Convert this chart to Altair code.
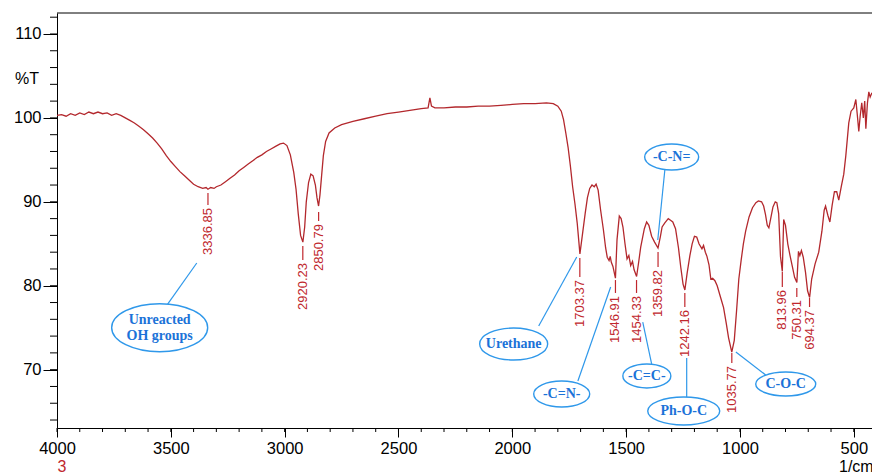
import altair as alt
import pandas as pd

# ---------------- spectrum ----------------
wavenumber = [
    4000, 3980, 3960, 3940, 3920, 3900, 3880, 3860, 3840, 3820, 3800, 3780, 3760, 3740,
    3720, 3700, 3680, 3660, 3640, 3620, 3600, 3580, 3560, 3540, 3520, 3500, 3480, 3460,
    3440, 3420, 3400, 3380, 3360, 3345, 3337, 3325, 3310, 3300, 3280, 3260, 3240, 3220,
    3200, 3180, 3160, 3140, 3120, 3100, 3080, 3060, 3040, 3020, 3005, 2990, 2975, 2960,
    2950, 2940, 2930, 2920, 2912, 2905, 2895, 2885, 2875, 2865, 2858, 2851, 2845, 2838,
    2830, 2820, 2805, 2780, 2750, 2700, 2650, 2600, 2550, 2500, 2450, 2400, 2370, 2362,
    2355, 2340, 2300, 2250, 2200, 2150, 2100, 2050, 2000, 1950, 1900, 1850, 1820, 1800,
    1785, 1775, 1765, 1755, 1745, 1735, 1725, 1715, 1703, 1690, 1680, 1670, 1660, 1650,
    1640, 1632, 1623, 1612, 1600, 1590, 1583, 1575, 1570, 1565, 1558, 1547, 1540, 1530,
    1522, 1514, 1505, 1496, 1488, 1480, 1472, 1465, 1454, 1445, 1436, 1420, 1410, 1400,
    1388, 1375, 1360, 1350, 1342, 1330, 1315, 1305, 1295, 1283, 1270, 1260, 1250, 1242,
    1232, 1220, 1210, 1200, 1190, 1180, 1167, 1160, 1152, 1145, 1136, 1128, 1120, 1110,
    1100, 1085, 1072, 1060, 1050, 1036, 1025, 1015, 1005, 995, 985, 975, 960, 945,
    930, 919, 905, 896, 888, 880, 873, 865, 855, 845, 838, 830, 822, 814,
    808, 800, 790, 780, 770, 760, 750, 743, 737, 730, 722, 712, 703, 694,
    685, 670, 654, 640, 630, 624, 614, 605, 595, 585, 575, 566, 555, 544,
    535, 522, 512, 500, 491, 485, 478, 472, 465, 458, 452, 447, 440, 434,
    428, 420,
]
transmittance = [
    100.3, 100.4, 100.2, 100.5, 100.3, 100.6, 100.4, 100.7, 100.5, 100.7, 100.5, 100.6, 100.3, 100.5,
    100.3, 100.0, 99.7, 99.4, 99.0, 98.6, 98.1, 97.6, 97.0, 96.3, 95.5, 94.8, 94.2, 93.6,
    93.1, 92.6, 92.1, 91.8, 91.6, 91.7, 91.5, 91.7, 91.6, 91.8, 92.0, 92.4, 92.8, 93.2,
    93.7, 94.1, 94.5, 94.9, 95.3, 95.6, 96.0, 96.3, 96.6, 96.9, 97.0, 96.7, 95.6, 93.5,
    91.5, 88.5, 86.0, 85.2, 87.0, 90.0, 92.3, 93.3, 93.1, 92.0, 90.5, 89.5, 90.8, 93.0,
    95.5, 97.2, 98.2, 98.8, 99.2, 99.6, 99.9, 100.2, 100.5, 100.7, 100.9, 101.1, 101.2, 102.4,
    101.4, 101.2, 101.2, 101.3, 101.3, 101.4, 101.4, 101.5, 101.6, 101.7, 101.7, 101.8, 101.7, 101.4,
    100.8, 99.8, 98.2, 96.5, 94.3, 91.8, 89.8, 87.5, 83.8, 86.5, 88.6, 90.5, 91.6, 92.0,
    91.8, 92.1, 91.4, 89.0, 86.7, 84.5, 83.4, 83.0, 83.5, 82.8, 82.3, 80.9, 85.5, 88.3,
    88.0, 87.0, 85.0, 83.2, 83.6, 82.4, 82.9, 81.9, 81.1, 82.8, 84.6, 86.8, 87.6, 87.2,
    85.9, 85.2, 84.5, 85.8, 87.0, 87.5, 88.0, 87.8, 87.6, 86.8, 84.5, 82.2, 80.2, 79.5,
    81.5, 83.6, 85.0, 85.9, 85.8, 85.0, 84.4, 84.8, 84.0, 83.5, 82.5, 80.8, 80.9, 80.6,
    80.0, 78.6, 77.4, 75.5, 73.8, 72.1, 73.5, 77.0, 80.8, 83.0, 85.0, 86.5, 88.2, 89.3,
    89.9, 90.1, 90.0, 89.5, 88.5, 87.2, 86.9, 88.0, 89.4, 90.0, 89.9, 88.6, 83.5, 81.7,
    87.9, 87.2, 85.0, 83.6, 82.3, 81.0, 80.4, 84.1, 83.6, 84.2, 83.4, 81.6, 79.4, 78.6,
    80.8, 82.6, 84.0, 86.5, 89.0, 89.5, 88.4, 87.6, 89.6, 91.2, 91.2, 90.2, 91.8, 93.3,
    95.5, 99.4, 100.8, 101.2, 102.2, 100.5, 98.4, 100.2, 101.8, 100.0, 102.0, 98.7, 101.8, 103.1,
    102.5, 103.0,
]

# ---------------- peak labels ----------------
peak_labels = ["3336.85", "2920.23", "2850.79", "1703.37", "1546.91", "1454.33",
               "1359.82", "1242.16", "1035.77", "813.96", "750.31", "694.37"]
peak_line_top = [91.05, 84.73, 88.79, 83.31, 80.68, 80.68, 84.02, 79.14, 71.99, 81.64, 79.73, 78.54]
peak_line_bottom = [89.62, 83.07, 87.71, 81.04, 79.14, 79.14, 82.23, 77.47, 70.79, 79.85, 78.66, 77.47]

# ---------------- callouts ----------------
callout_text = ["Unreacted\nOH groups", "Urethane", "-C=N-", "-C=C-", "-C-N=", "Ph-O-C", "C-O-C"]
callout_lines = [2, 1, 1, 1, 1, 1, 1]
callout_x = [3549, 1994, 1783, 1409, 1300, 1247, 799]
callout_y = [75.0, 73.06, 67.1, 69.25, 95.34, 65.08, 68.29]
leader_x1 = [3514, 1884, 1712, 1388, 1330, 1234, 887]
leader_y1 = [77.82, 75.20, 68.65, 70.68, 93.79, 66.74, 69.37]
leader_x2 = [3386, 1717, 1568, 1427, 1361, 1234, 1018]
leader_y2 = [82.71, 83.42, 79.85, 75.68, 85.45, 71.39, 72.11]

# ---------------- axes ----------------
x_major = [4000, 3500, 3000, 2500, 2000, 1500, 1000, 500]
x_minor = list(range(4000, 499, -100))
y_major = [70, 80, 90, 100, 110]
y_minor = list(range(64, 113, 2))

# ellipse styling (pixel width, height)
ell_w = [96, 68, 56, 48, 54, 72, 60]
ell_h = [48, 32, 26, 24, 26, 28, 24]

RED = "#b3282d"
LABEL_RED = "#c0272d"
BLUE_LINE = "#2f98ea"
BLUE_TEXT = "#1b72d8"

W, H = 815, 415

xscale = alt.Scale(domain=[420, 4000], reverse=True, nice=False, zero=False)
yscale = alt.Scale(domain=[63.05, 112.5], nice=False, zero=False)
xaxis = alt.Axis(values=x_major, format="d", title=None, tickSize=9, labelPadding=3,
                 labelFlush=False, labelOverlap=False)
yaxis = alt.Axis(values=y_major, format="d", title=None, tickSize=14, labelPadding=2)


def X(field):
    return alt.X(field, type="quantitative", scale=xscale, axis=xaxis)


def Y(field):
    return alt.Y(field, type="quantitative", scale=yscale, axis=yaxis)


spec_df = pd.DataFrame({"wn": wavenumber, "t": transmittance})
peak_df = pd.DataFrame({
    "lab": peak_labels,
    "wn": [float(v) for v in peak_labels],
    "top": peak_line_top,
    "bot": peak_line_bottom,
})


def ellipse_path(w, h):
    r = h / w
    k = 0.5523
    return (f"M-1,0 C-1,{-k*r:.4f} {-k:.4f},{-r:.4f} 0,{-r:.4f} "
            f"C{k:.4f},{-r:.4f} 1,{-k*r:.4f} 1,0 "
            f"C1,{k*r:.4f} {k:.4f},{r:.4f} 0,{r:.4f} "
            f"C{-k:.4f},{r:.4f} -1,{k*r:.4f} -1,0 Z")


call_df = pd.DataFrame({
    "txt": callout_text,
    "lines": callout_lines,
    "wn": callout_x,
    "t": callout_y,
    "x1": leader_x1, "y1": leader_y1, "x2": leader_x2, "y2": leader_y2,
    "shape": [ellipse_path(w, h) for w, h in zip(ell_w, ell_h)],
    "size": [w * w for w in ell_w],
})

xminor_df = pd.DataFrame({"v": x_minor})
yminor_df = pd.DataFrame({"v": y_minor})

spectrum = alt.Chart(spec_df).mark_line(color=RED, strokeWidth=1.3).encode(
    x=X("wn"), y=Y("t"), order=alt.Order("wn:Q", sort="descending")
)

peak_rules = alt.Chart(peak_df).mark_rule(color=LABEL_RED, strokeWidth=1.2).encode(
    x=X("wn"), y=Y("bot"), y2="top"
)
peak_text = alt.Chart(peak_df).mark_text(
    angle=270, align="right", baseline="middle", dx=-3, font="Liberation Sans",
    fontSize=13, color=LABEL_RED
).encode(x=X("wn"), y=Y("bot"), text="lab:N")

leaders = alt.Chart(call_df).mark_rule(color=BLUE_LINE, strokeWidth=1.2).encode(
    x=X("x1"), x2="x2", y=Y("y1"), y2="y2"
)
ellipses = alt.Chart(call_df).mark_point(
    filled=False, color=BLUE_LINE, strokeWidth=1.4, opacity=1
).encode(
    x=X("wn"), y=Y("t"),
    shape=alt.Shape("shape:N", scale=None, legend=None),
    size=alt.Size("size:Q", scale=None, legend=None),
)
text_style = dict(font="Liberation Serif", fontWeight="bold", fontSize=14, color=BLUE_TEXT,
                  lineBreak="\n", lineHeight=16, baseline="middle", align="center")
call_text_one = alt.Chart(call_df).transform_filter("datum.lines == 1").mark_text(
    **text_style
).encode(x=X("wn"), y=Y("t"), text="txt:N")
call_text_two = alt.Chart(call_df).transform_filter("datum.lines == 2").mark_text(
    dy=-8, **text_style
).encode(x=X("wn"), y=Y("t"), text="txt:N")

x_minor_ticks = alt.Chart(xminor_df).mark_rule(color="black", strokeWidth=1).encode(
    x=X("v"), y=alt.value(H), y2=alt.value(H + 4)
)
y_minor_ticks = alt.Chart(yminor_df).mark_rule(color="black", strokeWidth=1).encode(
    y=Y("v"), x=alt.value(-7), x2=alt.value(0)
)
top_border = alt.Chart(pd.DataFrame({"a": [0]})).mark_rule(color="black", strokeWidth=1).encode(
    x=alt.value(0), x2=alt.value(W), y=alt.value(0)
)

pct_label = alt.Chart(pd.DataFrame({"t": [104.6], "s": ["%T"]})).mark_text(
    font="Liberation Sans", fontSize=16, color="black", align="center", baseline="middle"
).encode(y=Y("t"), x=alt.value(-30), text="s:N")

unit_3 = alt.Chart(pd.DataFrame({"s": ["3"]})).mark_text(
    font="Liberation Sans", fontSize=16, color=LABEL_RED, align="center", baseline="middle"
).encode(x=alt.value(5), y=alt.value(H + 39), text="s:N")

unit_cm = alt.Chart(pd.DataFrame({"s": ["1/cm"]})).mark_text(
    font="Liberation Sans", fontSize=16, color="black", align="left", baseline="middle"
).encode(x=alt.value(782), y=alt.value(H + 39), text="s:N")

chart = alt.layer(
    y_minor_ticks, x_minor_ticks, top_border,
    leaders, ellipses, call_text_one, call_text_two,
    peak_rules, peak_text,
    spectrum,
    pct_label, unit_3, unit_cm,
).properties(
    width=W, height=H,
    autosize=alt.AutoSizeParams(type="none"),
    padding={"left": 57, "top": 13, "right": 0, "bottom": 46},
    background="white",
).configure_view(stroke=None).configure_axis(
    grid=False, domainColor="black", tickColor="black", labelColor="black",
    labelFont="Liberation Sans", labelFontSize=16.5, domainWidth=1, tickWidth=1,
)

chart.save("out.html", embed_options={"renderer": "svg", "actions": False})
